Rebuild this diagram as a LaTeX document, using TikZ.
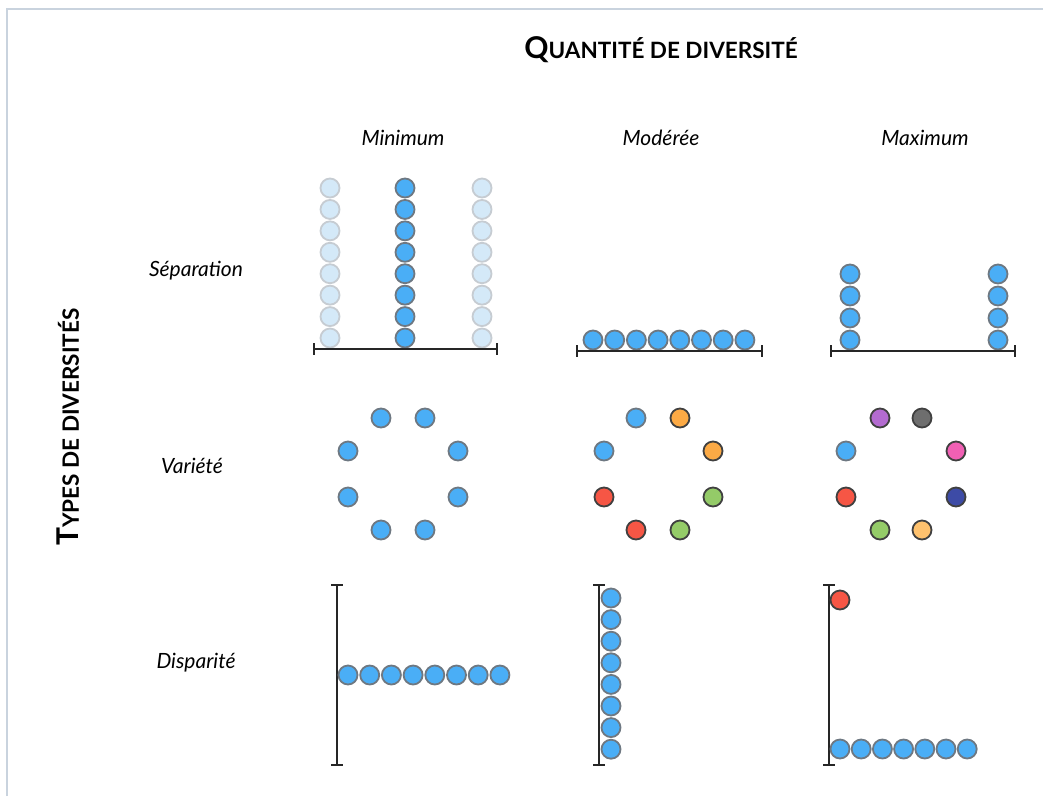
\documentclass[tikz,border=0pt]{standalone}
\usepackage{fontspec}
\setmainfont{Lato}
\definecolor{cblue}{HTML}{4AAEF6}
\definecolor{cedge}{HTML}{6E7882}
\definecolor{lblue}{HTML}{D4E9F8}
\definecolor{ledge}{HTML}{C6CCD2}
\definecolor{corange}{HTML}{FCAA45}
\definecolor{cred}{HTML}{F65645}
\definecolor{cgreen}{HTML}{94CB68}
\definecolor{cpurple}{HTML}{B36BD0}
\definecolor{cgray}{HTML}{6E6E6E}
\definecolor{cpink}{HTML}{F060B4}
\definecolor{cnavy}{HTML}{3D4BA6}
\definecolor{cpale}{HTML}{FFC26E}
\definecolor{frame}{HTML}{C9D3DE}
\tikzset{
  dot/.style={circle,minimum size=19pt,inner sep=0pt,line width=1.8pt,draw=cedge,fill=cblue},
  faint/.style={dot,draw=ledge,fill=lblue},
  vdot/.style={circle,minimum size=19pt,inner sep=0pt,line width=1.8pt,draw=black!75,fill=#1},
  axis/.style={line width=2pt,black!85},
  tick/.style={line width=2pt,black!85},
  collab/.style={font=\itshape\fontsize{21}{21}\selectfont},
  rowlab/.style={font=\itshape\fontsize{21}{21}\selectfont}
}
\newcommand{\hscale}[3]{% y, x1, x2
  \draw[axis] (#2,#1) -- (#3,#1);
  \draw[tick] (#2,#1-6) -- (#2,#1+6);
  \draw[tick] (#3,#1-6) -- (#3,#1+6);}
\newcommand{\vscale}[3]{% x, y1, y2
  \draw[axis] (#1,#2) -- (#1,#3);
  \draw[tick] (#1-6,#2) -- (#1+6,#2);
  \draw[tick] (#1-6,#3) -- (#1+6,#3);}
\begin{document}
\begin{tikzpicture}[x=1pt,y=-1pt]
\useasboundingbox (0,0) rectangle (1043,796);
\fill[white] (0,0) rectangle (1043,796);
\draw[frame,line width=1.5pt] (7,796) -- (7,9) -- (1043,9);
% titles
\node[font=\bfseries] (title) at (661,50) {\fontsize{30}{30}\selectfont Q\fontsize{22.5}{22.5}\selectfont UANTITÉ DE DIVERSITÉ};
\node[font=\bfseries,rotate=90] (ylab) at (68,427) {\fontsize{30}{30}\selectfont T\fontsize{22.5}{22.5}\selectfont YPES DE DIVERSITÉS};
\node[collab] (cmin) at (403,138) {Minimum};
\node[collab] (cmod) at (661,138) {Modérée};
\node[collab] (cmax) at (925,138) {Maximum};
\node[rowlab] (rsep) at (196,271) {Séparation};
\node[rowlab] (rvar) at (192,466) {Variété};
\node[rowlab] (rdis) at (196,663) {Disparité};
% Separation minimum
\foreach \i in {0,...,7}{
  \node[faint] at (330,188+21.43*\i) {};
  \node[dot] at (405,188+21.43*\i) {};
  \node[faint] at (482,188+21.43*\i) {};
}
\hscale{349}{314}{497}
% Separation moderate
\foreach \i in {0,...,7}{ \node[dot] at (593+21.7*\i,340) {}; }
\hscale{351}{577}{762}
% Separation maximum
\foreach \i in {0,...,3}{
  \node[dot] at (850,274+22*\i) {};
  \node[dot] at (998,274+22*\i) {};
}
\hscale{351}{831}{1015}
% Variety minimum
\foreach \p in {(381,418),(425,418),(348,451),(458,451),(348,497),(458,497),(381,530),(425,530)}{
  \node[dot] at \p {};
}
% Variety moderate
\node[vdot=cblue,draw=cedge] at (636,418) {};
\node[vdot=corange] at (680,418) {};
\node[vdot=cblue,draw=cedge] at (604,451) {};
\node[vdot=corange] at (713,451) {};
\node[vdot=cred] at (604,497) {};
\node[vdot=cgreen] at (713,497) {};
\node[vdot=cred] at (636,530) {};
\node[vdot=cgreen] at (680,530) {};
% Variety maximum
\node[vdot=cpurple] at (880,418) {};
\node[vdot=cgray] at (922,418) {};
\node[vdot=cblue,draw=cedge] at (846,451) {};
\node[vdot=cpink] at (956,451) {};
\node[vdot=cred] at (846,497) {};
\node[vdot=cnavy] at (956,497) {};
\node[vdot=cgreen] at (880,530) {};
\node[vdot=cpale] at (922,530) {};
% Disparity minimum
\vscale{337}{585}{765}
\foreach \i in {0,...,7}{ \node[dot] at (348+21.7*\i,675) {}; }
% Disparity moderate
\vscale{599}{585}{765}
\foreach \i in {0,...,7}{ \node[dot] at (611,598+21.6*\i) {}; }
% Disparity maximum
\vscale{829}{585}{765}
\node[vdot=cred] at (840,600) {};
\foreach \i in {0,...,6}{ \node[dot] at (840+21.2*\i,749) {}; }
\end{tikzpicture}
\end{document}
